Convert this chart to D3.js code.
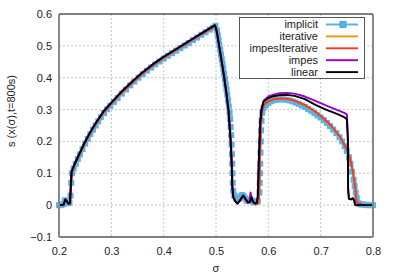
<!DOCTYPE html>
<html>
<head>
<meta charset="utf-8">
<script src="https://cdn.jsdelivr.net/npm/d3@7"></script>
<style>
  body { margin: 0; background: #fff; }
  text { font-family: "Liberation Sans", Arial, sans-serif; fill: #222; }
</style>
</head>
<body>
<svg id="chart"></svg>
<script>
// tick values
var xTicks = [0.2, 0.3, 0.4, 0.5, 0.6, 0.7, 0.8];
var yTicks = [-0.1, 0, 0.1, 0.2, 0.3, 0.4, 0.5, 0.6];

// series: [sigma, s]
var implicit = [
  [0.2,0],[0.204,0],[0.208,0.003],[0.211,0.015],[0.214,0.014],[0.217,0.006],[0.22,0.007],
  [0.222,0.03],[0.2235,0.07],[0.225,0.1],[0.228,0.115],[0.232,0.13],[0.236,0.145],[0.24,0.159],
  [0.245,0.176],[0.25,0.193],[0.255,0.208],[0.26,0.223],[0.265,0.237],[0.27,0.25],[0.275,0.263],
  [0.28,0.276],[0.286,0.289],[0.292,0.301],[0.298,0.312],[0.305,0.324],[0.312,0.336],[0.32,0.35],
  [0.328,0.363],[0.336,0.376],[0.344,0.388],[0.352,0.4],[0.36,0.411],[0.368,0.422],[0.376,0.432],
  [0.384,0.442],[0.392,0.451],[0.4,0.46],[0.408,0.469],[0.416,0.477],[0.424,0.485],[0.432,0.493],
  [0.44,0.501],[0.448,0.509],[0.456,0.518],[0.464,0.526],[0.472,0.535],[0.48,0.543],[0.488,0.551],
  [0.494,0.557],[0.499,0.563],[0.502,0.548],[0.5035,0.533],[0.505,0.518],[0.5065,0.503],
  [0.508,0.488],[0.5095,0.473],[0.511,0.458],[0.5125,0.443],[0.514,0.428],[0.5155,0.412],
  [0.517,0.396],[0.5185,0.38],[0.52,0.364],[0.5215,0.347],[0.523,0.329],[0.5245,0.31],[0.526,0.29],
  [0.527,0.27],[0.528,0.245],[0.529,0.22],[0.5298,0.19],[0.5305,0.16],[0.531,0.13],[0.5315,0.1],
  [0.532,0.07],[0.533,0.045],[0.535,0.03],[0.538,0.022],[0.541,0.02],[0.544,0.022],[0.547,0.027],
  [0.55,0.032],[0.553,0.028],[0.556,0.021],[0.559,0.014],[0.562,0.013],[0.565,0.017],[0.568,0.015],
  [0.571,0.01],[0.574,0.009],[0.577,0.01],[0.58,0.013],[0.583,0.04],[0.5835,0.07],[0.584,0.1],
  [0.5845,0.13],[0.585,0.165],[0.5855,0.2],[0.586,0.235],[0.587,0.265],[0.5885,0.29],[0.591,0.305],
  [0.595,0.314],[0.6,0.321],[0.605,0.326],[0.61,0.329],[0.616,0.331],[0.622,0.332],[0.628,0.332],
  [0.634,0.331],[0.64,0.329],[0.646,0.326],[0.652,0.322],[0.658,0.318],[0.664,0.313],[0.67,0.308],
  [0.676,0.302],[0.682,0.296],[0.688,0.289],[0.694,0.282],[0.7,0.275],[0.706,0.267],[0.712,0.258],
  [0.718,0.248],[0.724,0.237],[0.73,0.226],[0.736,0.213],[0.741,0.2],[0.746,0.185],[0.75,0.17],
  [0.754,0.15],[0.757,0.13],[0.76,0.105],[0.763,0.08],[0.765,0.06],[0.767,0.04],[0.769,0.022],
  [0.771,0.008],[0.774,0.003],[0.778,0.002],[0.782,0.002],[0.786,0.001],[0.79,0],[0.794,0],[0.8,0]
];

var impesIterative = [
  [0.2,0],[0.205,0],[0.209,0.002],[0.212,0.017],[0.215,0.012],[0.218,0.004],[0.2215,0.006],
  [0.223,0.06],[0.2245,0.1],[0.23,0.126],[0.24,0.161],[0.25,0.196],[0.26,0.226],[0.27,0.253],
  [0.285,0.29],[0.3,0.318],[0.32,0.353],[0.34,0.384],[0.361,0.415],[0.38,0.439],[0.4,0.462],
  [0.431,0.494],[0.46,0.524],[0.48,0.544],[0.499,0.562],[0.502,0.543],[0.507,0.49],[0.514,0.42],
  [0.52,0.352],[0.524,0.296],[0.528,0.205],[0.5303,0.13],[0.5315,0.06],[0.5335,0.025],
  [0.537,0.012],[0.541,0.006],[0.546,0.015],[0.552,0.029],[0.557,0.018],[0.561,0.008],
  [0.565,0.01],[0.568,0.022],[0.571,0.01],[0.575,0.003],[0.58,0.004],[0.5825,0.03],[0.584,0.15],
  [0.586,0.26],[0.588,0.295],[0.592,0.315],[0.6,0.326],[0.61,0.332],[0.6225,0.335],[0.635,0.334],
  [0.65,0.328],[0.67,0.314],[0.69,0.293],[0.7,0.28],[0.72,0.25],[0.737,0.215],[0.75,0.175],
  [0.756,0.148],[0.761,0.11],[0.765,0.07],[0.768,0.02],[0.77,0.006],[0.776,0.005],[0.778,0],[0.8,0]
];

var iterative = impesIterative.slice();

var impes = [
  [0.2,0],[0.205,0],[0.209,0.002],[0.212,0.018],[0.215,0.012],[0.218,0.004],[0.221,0.006],
  [0.2225,0.06],[0.224,0.105],[0.23,0.13],[0.24,0.165],[0.25,0.2],[0.26,0.23],[0.27,0.257],
  [0.285,0.294],[0.3,0.322],[0.32,0.357],[0.34,0.388],[0.361,0.419],[0.38,0.443],[0.4,0.466],
  [0.431,0.497],[0.46,0.527],[0.48,0.547],[0.498,0.565],[0.5015,0.545],[0.507,0.49],[0.514,0.419],
  [0.52,0.35],[0.524,0.294],[0.528,0.2],[0.53,0.127],[0.531,0.06],[0.533,0.025],[0.537,0.012],
  [0.541,0.005],[0.546,0.015],[0.552,0.03],[0.557,0.018],[0.561,0.008],[0.564,0.012],[0.566,0.04],
  [0.569,0.015],[0.575,0.005],[0.578,0.008],[0.58,0.03],[0.582,0.15],[0.5845,0.26],[0.587,0.302],
  [0.591,0.328],[0.6,0.341],[0.61,0.347],[0.62,0.351],[0.635,0.352],[0.65,0.35],[0.67,0.341],
  [0.69,0.327],[0.71,0.313],[0.73,0.3],[0.745,0.29],[0.75,0.285],[0.752,0.22],[0.7525,0.05],
  [0.754,0.02],[0.758,0.018],[0.761,0.022],[0.764,0.015],[0.766,0],[0.8,0]
];

var linear = [
  [0.2,0],[0.205,0],[0.209,0.002],[0.212,0.018],[0.215,0.012],[0.218,0.004],[0.221,0.006],
  [0.2225,0.06],[0.224,0.105],[0.23,0.13],[0.24,0.165],[0.25,0.2],[0.26,0.23],[0.27,0.257],
  [0.285,0.294],[0.3,0.322],[0.32,0.357],[0.34,0.388],[0.361,0.419],[0.38,0.443],[0.4,0.466],
  [0.431,0.497],[0.46,0.527],[0.48,0.547],[0.498,0.565],[0.5015,0.545],[0.507,0.49],[0.514,0.419],
  [0.52,0.35],[0.524,0.294],[0.528,0.2],[0.53,0.127],[0.531,0.06],[0.533,0.025],[0.537,0.012],
  [0.541,0.005],[0.546,0.015],[0.552,0.03],[0.557,0.018],[0.561,0.008],[0.565,0.01],[0.568,0.025],
  [0.571,0.01],[0.575,0.005],[0.578,0.008],[0.58,0.03],[0.582,0.15],[0.5845,0.26],[0.587,0.3],
  [0.591,0.325],[0.6,0.336],[0.61,0.342],[0.62,0.345],[0.635,0.346],[0.65,0.343],[0.67,0.333],
  [0.69,0.315],[0.71,0.3],[0.73,0.287],[0.745,0.276],[0.75,0.27],[0.752,0.2],[0.7525,0.05],
  [0.754,0.02],[0.758,0.018],[0.761,0.022],[0.764,0.015],[0.766,0],[0.8,0]
];

var seriesNames = ["implicit", "iterative", "impesIterative", "impes", "linear"];
var seriesColors = ["#56b4e9", "#e69f00", "#f03a2e", "#9400d3", "#000000"];
var seriesData = [implicit, iterative, impesIterative, impes, linear];
var seriesWidths = [1.5, 2, 1.9, 1.9, 1.9];

var W = 395, H = 276;
var margin = {top: 14, right: 22, bottom: 39, left: 59},
    width = W - margin.left - margin.right,
    height = H - margin.top - margin.bottom;

var svg = d3.select("#chart").attr("width", W).attr("height", H);
var g = svg.append("g").attr("transform", "translate(" + margin.left + "," + margin.top + ")");

var x = d3.scaleLinear().domain([0.2, 0.8]).range([0, width]);
var y = d3.scaleLinear().domain([-0.1, 0.6]).range([height, 0]);

// grid
g.append("g").selectAll("line").data(xTicks.slice(1, -1)).enter().append("line")
  .attr("x1", function(d) { return x(d); }).attr("x2", function(d) { return x(d); })
  .attr("y1", 0).attr("y2", height)
  .attr("stroke", "#c4c4c4").attr("stroke-width", 1).attr("stroke-dasharray", "2,2");
g.append("g").selectAll("line").data(yTicks.slice(1, -1)).enter().append("line")
  .attr("y1", function(d) { return y(d); }).attr("y2", function(d) { return y(d); })
  .attr("x1", 0).attr("x2", width)
  .attr("stroke", "#c4c4c4").attr("stroke-width", 1).attr("stroke-dasharray", "2,2");

// axes (labels only, border drawn separately)
var xAxis = g.append("g").attr("transform", "translate(0," + height + ")")
  .call(d3.axisBottom(x).tickValues(xTicks).tickSize(0).tickPadding(10).tickFormat(d3.format(".1f")));
var yAxis = g.append("g")
  .call(d3.axisLeft(y).tickValues(yTicks).tickSize(0).tickPadding(7)
    .tickFormat(function(d) { return d === 0 ? "0" : d3.format(".1f")(d); }));
[xAxis, yAxis].forEach(function(a) {
  a.select(".domain").remove();
  a.selectAll("text").style("font-size", "11px").style("font-family", "Liberation Sans, Arial, sans-serif").attr("fill", "#222");
});

// lines
var line = d3.line().x(function(d) { return x(d[0]); }).y(function(d) { return y(d[1]); });
var plot = g.append("g");
seriesData.forEach(function(data, i) {
  plot.append("path").datum(data)
    .attr("d", line)
    .attr("fill", "none")
    .attr("stroke", seriesColors[i])
    .attr("stroke-width", seriesWidths[i])
    .attr("stroke-linejoin", "round");
  if (i === 0) {
    plot.selectAll("rect.mk").data(data).enter().append("rect")
      .attr("class", "mk")
      .attr("x", function(d) { return x(d[0]) - 3; })
      .attr("y", function(d) { return y(d[1]) - 3; })
      .attr("width", 6).attr("height", 6)
      .attr("fill", "#56b4e9");
  }
});

// border
g.append("line").attr("x1", 0).attr("x2", width).attr("y1", 0).attr("y2", 0).attr("stroke", "#000");
g.append("line").attr("x1", 0).attr("x2", width).attr("y1", height).attr("y2", height).attr("stroke", "#000");
g.append("line").attr("x1", 0).attr("x2", 0).attr("y1", 0).attr("y2", height).attr("stroke", "#888").attr("stroke-width", 2);
g.append("line").attr("x1", width).attr("x2", width).attr("y1", 0).attr("y2", height).attr("stroke", "#888").attr("stroke-width", 2);

// axis titles
svg.append("text").attr("x", margin.left + width / 2).attr("y", 272)
  .attr("text-anchor", "middle").style("font-size", "11px").text("σ");
svg.append("text").attr("transform", "translate(15," + 111 + ") rotate(-90)")
  .attr("text-anchor", "middle").style("font-size", "11px").text("s (x(σ),t=800s)");

// legend
var legend = svg.append("g");
legend.append("rect").attr("x", 239.5).attr("y", 17.5).attr("width", 125).attr("height", 61)
  .attr("fill", "#fff").attr("stroke", "#555").attr("stroke-width", 1);
seriesNames.forEach(function(name, i) {
  var ly = 24.5 + i * 11.9;
  legend.append("text").attr("x", 318).attr("y", ly).attr("dy", "0.35em")
    .attr("text-anchor", "end").style("font-size", "11px").text(name);
  legend.append("line").attr("x1", 326).attr("x2", 358).attr("y1", ly).attr("y2", ly)
    .attr("stroke", seriesColors[i]).attr("stroke-width", i === 0 ? 2 : 1.9);
  if (i === 0) {
    legend.append("rect").attr("x", 340).attr("y", ly - 3).attr("width", 6).attr("height", 6)
      .attr("fill", "#56b4e9").attr("stroke", "#3a96cc").attr("stroke-width", 0.8);
  }
});
</script>
</body>
</html>
